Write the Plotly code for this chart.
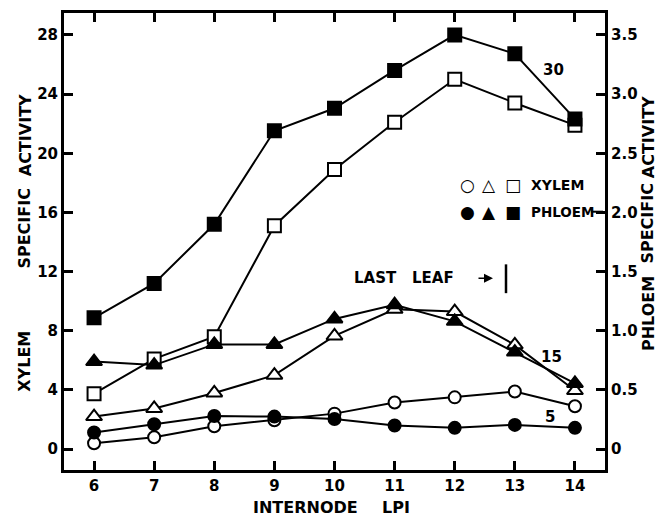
import plotly.graph_objects as go

# ---- data ----
internode = [6, 7, 8, 9, 10, 11, 12, 13, 14]

# xylem specific activity (left axis)
xylem_5 = [0.4, 0.8, 1.55, 1.95, 2.4, 3.15, 3.5, 3.9, 2.9]
xylem_15 = [2.2, 2.75, 3.8, 5.0, 7.65, 9.45, 9.3, 7.05, 3.96]
xylem_30 = [3.75, 6.1, 7.6, 15.1, 18.9, 22.1, 25.0, 23.4, 21.9]

# phloem specific activity (right axis)
phloem_5 = [0.14, 0.21, 0.28, 0.275, 0.255, 0.2, 0.18, 0.205, 0.18]
phloem_15 = [0.74, 0.71, 0.885, 0.885, 1.1, 1.22, 1.08, 0.82, 0.555]
phloem_30 = [1.11, 1.40, 1.90, 2.69, 2.88, 3.20, 3.50, 3.34, 2.79]

left_ticks = [0, 4, 8, 12, 16, 20, 24, 28]
right_ticks = [0, 0.5, 1.0, 1.5, 2.0, 2.5, 3.0, 3.5]
right_ticktext = ["0", "0.5", "1.0", "1.5", "2.0", "2.5", "3.0", "3.5"]

FONT = "DejaVu Sans"

fig = go.Figure()

def add(y, symbol, filled, size, axis):
    fig.add_trace(go.Scatter(
        x=internode, y=y, yaxis=axis, mode="lines+markers",
        line=dict(color="black", width=2),
        marker=dict(symbol=symbol, size=size,
                    color="black" if filled else "white",
                    line=dict(color="black", width=2)),
        showlegend=False, hoverinfo="skip"))

add(phloem_5, "circle", True, 12, "y2")
add(xylem_5, "circle", False, 12, "y")
add(xylem_15, "triangle-up", False, 14, "y")
add(phloem_15, "triangle-up", True, 14, "y2")
add(phloem_30, "square", True, 13, "y2")
add(xylem_30, "square", False, 13, "y")

ymin, ymax = -1.41, 29.48
tickfont = dict(family=FONT, size=15, color="black", weight="bold")
axis_common = dict(showline=True, linewidth=3, linecolor="black", ticks="inside",
                   ticklen=9, tickwidth=2.5, tickcolor="black", showgrid=False,
                   zeroline=False, tickfont=tickfont)

fig.update_layout(
    width=664, height=521,
    margin=dict(l=64, r=59, t=10, b=51),
    paper_bgcolor="white", plot_bgcolor="white",
    font=dict(family=FONT, color="black", weight="bold"),
    xaxis=dict(range=[5.5, 14.5], tickvals=internode, mirror="ticks", **axis_common),
    yaxis=dict(range=[ymin, ymax], tickvals=left_ticks, mirror=False, **axis_common),
    yaxis2=dict(range=[ymin / 8, ymax / 8], tickvals=right_ticks, ticktext=right_ticktext,
                overlaying="y", side="right", **axis_common),
)

def ann(text, x, y, size=16, angle=0, xanchor="center"):
    fig.add_annotation(text=text, x=x, y=y, xref="paper", yref="paper", showarrow=False,
                       textangle=angle, xanchor=xanchor, yanchor="middle",
                       font=dict(family=FONT, size=size, color="black", weight="bold"))

W, H = 541.0, 460.0
def px(xp):
    return (xp - 64) / W
def py(yp):
    return (470 - yp) / H

# left axis title words
ann("ACTIVITY", px(25), py(133), angle=-90)
ann("SPECIFIC", px(25), py(227), angle=-90)
ann("XYLEM", px(25), py(361), angle=-90)
# right axis title words
ann("ACTIVITY", px(648), py(135), angle=-90)
ann("SPECIFIC", px(648), py(222), angle=-90)
ann("PHLOEM", px(648), py(313), angle=-90)
# x title
ann("INTERNODE", px(305), py(508))
ann("LPI", px(396), py(508))

# series labels
ann("30", px(553), py(67), size=15)
ann("15", px(551), py(356), size=15)
ann("5", px(550), py(417), size=15)

# legend
legend_rows = [("XYLEM", ["○", "△", "□"], 183, 14), ("PHLOEM", ["●", "▲", "■"], 210, 13.5)]
for label, syms, yy, fs in legend_rows:
    for s, cx in zip(syms, [467, 489, 513]):
        ann(s, px(cx), py(yy), size=17)
    ann(label, px(529), py(yy), size=fs, xanchor="left")
fig.add_shape(type="line", xref="paper", yref="paper", x0=px(591), x1=px(603),
              y0=py(210), y1=py(210), line=dict(color="black", width=2))

# last leaf marker
ann("LAST", px(352), py(277), size=15, xanchor="left")
ann("LEAF", px(410), py(277), size=15, xanchor="left")
fig.add_annotation(x=px(493), y=py(277), xref="paper", yref="paper", ax=-16, ay=0,
                   text="", showarrow=True, arrowhead=2, arrowsize=1.2, arrowwidth=1.5,
                   arrowcolor="black")
fig.add_shape(type="line", xref="paper", yref="paper", x0=px(506), x1=px(506),
              y0=py(263), y1=py(292), line=dict(color="black", width=2.5))

fig.write_html("out.html", config={"displayModeBar": False},
               post_script="document.body.style.margin='0';document.body.style.overflow='hidden';")
